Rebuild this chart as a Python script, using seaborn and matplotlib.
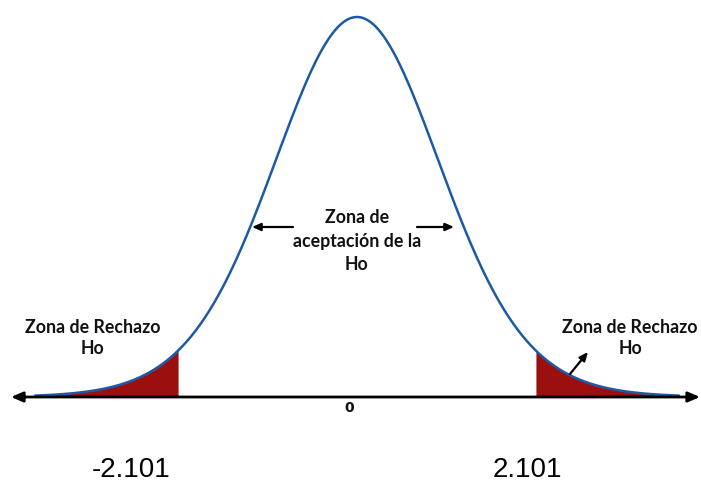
import math
import numpy as np
import pandas as pd
import matplotlib
matplotlib.use("Agg")
import matplotlib.pyplot as plt
import seaborn as sns

# ---- data ----
df_t = 18                      # degrees of freedom of the t distribution
critical = [-2.101, 2.101]     # critical values
crit_labels = ["-2.101", "2.101"]
center_label = "0"
reject_label = "Zona de Rechazo\nHo"
accept_label = "Zona de\naceptación de la\nHo"
x_range = [-3.8, 3.8]

def t_pdf(x, v):
    c = math.gamma((v + 1) / 2) / (math.sqrt(v * math.pi) * math.gamma(v / 2))
    return c * (1 + x ** 2 / v) ** (-(v + 1) / 2)

xs = np.linspace(x_range[0], x_range[1], 600)
curve = pd.DataFrame({"x": xs, "pdf": t_pdf(xs, df_t)})
peak = t_pdf(0.0, df_t)

sns.set_style("white")
W, H = 701, 482
fig = plt.figure(figsize=(W / 100, H / 100), dpi=100)
ax = fig.add_axes([0, 0, 1, 1])

# pixel <-> data mapping (layout)
PX0, PXU = 357.0, 84.7      # center pixel, pixels per unit
PY0, PYP = 397.0, 380.0     # baseline pixel, pixel height of peak
ax.set_xlim(-PX0 / PXU, (W - PX0) / PXU)
ax.set_ylim(-(H - PY0) / PYP * peak, PY0 / PYP * peak)
ax.axis("off")

def P(px, py):
    return ((px - PX0) / PXU, (PY0 - py) / PYP * peak)

red = "#9c0f0f"
blue = "#1d5aa3"

# shaded tails
left = curve[curve.x <= critical[0]]
right = curve[curve.x >= critical[1]]
ax.fill_between(left.x, 0, left.pdf, color=red, lw=0, zorder=2)
ax.fill_between(right.x, 0, right.pdf, color=red, lw=0, zorder=2)

sns.lineplot(data=curve, x="x", y="pdf", ax=ax, color=blue, lw=1.8, zorder=3)

# horizontal axis with arrows
ax.annotate("", xy=P(700, 397), xytext=P(11, 397),
            arrowprops=dict(arrowstyle="<|-|>,head_length=0.7,head_width=0.3",
                            lw=2.0, color="black", shrinkA=0, shrinkB=0),
            annotation_clip=False, zorder=4)

bold = dict(family=["Lato", "DejaVu Sans"], fontweight="bold", color="#111111")

ax.text(*P(349, 408), center_label, ha="center", va="center", fontsize=10,
        family="DejaVu Sans", fontweight="bold", color="#111111")

ax.text(*P(93, 338), reject_label, ha="center", va="center", fontsize=12.8,
        linespacing=1.35, **bold)
ax.text(*P(630, 338), reject_label, ha="center", va="center", fontsize=12.8,
        linespacing=1.35, **bold)
ax.text(*P(357, 241), accept_label, ha="center", va="center", fontsize=12.8,
        linespacing=1.45, **bold)

arrow_kw = dict(arrowstyle="-|>,head_length=0.5,head_width=0.22", lw=1.6,
                color="black", shrinkA=0, shrinkB=0)
ax.annotate("", xy=P(252, 227), xytext=P(293, 227), arrowprops=arrow_kw)
ax.annotate("", xy=P(454, 227), xytext=P(417, 227), arrowprops=arrow_kw)
ax.annotate("", xy=P(588, 352), xytext=P(570, 374), arrowprops=arrow_kw)

for cx, lab, px in zip(critical, crit_labels, [131, 527]):
    ax.text(*P(px, 470), lab, ha="center", va="center", fontsize=20,
            family="Liberation Sans", color="black")

fig.savefig("out.png", dpi=100, facecolor="white")
